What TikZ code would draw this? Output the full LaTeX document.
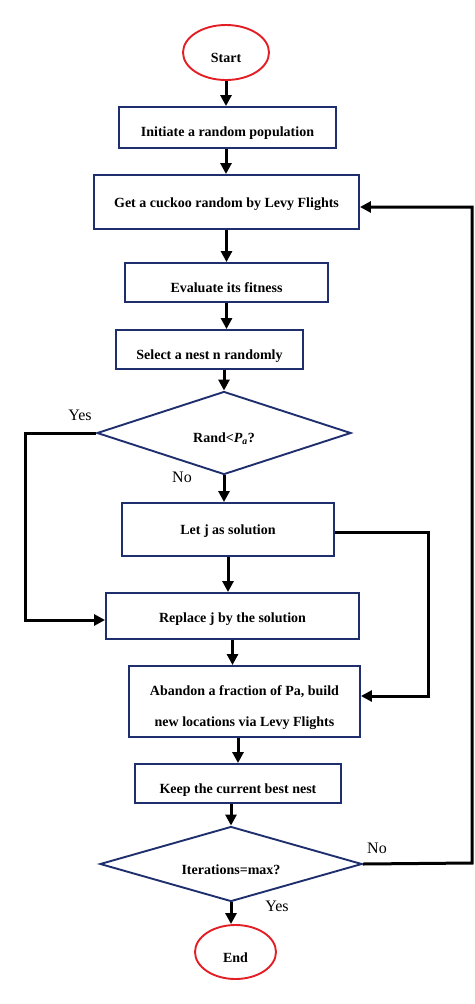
\documentclass[tikz,border=0pt]{standalone}
\usepackage{fontspec}
\setmainfont{Liberation Serif}
\usetikzlibrary{arrows.meta,shapes.geometric}
\definecolor{navy}{HTML}{1F2F6E}
\definecolor{ered}{HTML}{E31E24}
\tikzset{
  boxfont/.style={font=\fontsize{14}{16}\selectfont\bfseries},
  bl/.style={text height=#1,text depth=0pt},
  procbox/.style={draw=navy,line width=1.9pt,rectangle,inner sep=0pt,boxfont},
  term/.style={draw=ered,line width=1.9pt,ellipse,inner sep=0pt,boxfont},
  decide/.style={draw=navy,line width=1.9pt,diamond,inner sep=0pt,boxfont},
  flow/.style={line width=3pt,-{Triangle[length=11pt,width=11pt]}},
  lbl/.style={font=\fontsize{16}{18}\selectfont}
}
\begin{document}
\begin{tikzpicture}[x=1pt,y=-1pt]
\useasboundingbox (0,0) rectangle (474,1004);
\node[term,bl=19pt,minimum width=86pt,minimum height=55pt] (start) at (226,52.5) {Start};
\node[procbox,bl=17pt,minimum width=217pt,minimum height=41pt] (init) at (227.5,127.5) {Initiate a random population};
\node[procbox,bl=10pt,minimum width=265pt,minimum height=54pt] (get) at (226.5,202) {Get a cuckoo random by Levy Flights};
\node[procbox,bl=19pt,minimum width=203pt,minimum height=39pt] (eval) at (226.5,282.5) {Evaluate its fitness};
\node[procbox,bl=19pt,minimum width=187pt,minimum height=39pt] (sel) at (209.5,349.5) {Select a nest n randomly};
\node[decide,bl=18pt,minimum width=254pt,minimum height=83pt,aspect=3] (d1) at (224,433) {Rand<\textit{P}\textsubscript{\textit{a}}?};
\node[procbox,bl=9pt,minimum width=212pt,minimum height=53pt] (letj) at (228,529.5) {Let j as solution};
\node[procbox,bl=12pt,minimum width=253pt,minimum height=46pt] (rep) at (232.5,616) {Replace j by the solution};
\node[procbox,bl=49pt,minimum width=231pt,minimum height=71pt,align=center] (aband) at (244.5,701.5) {Abandon a fraction of Pa, build\\[15pt]new locations via Levy Flights};
\node[procbox,bl=19pt,minimum width=206pt,minimum height=39pt] (keep) at (238,783.5) {Keep the current best nest};
\node[decide,bl=20pt,minimum width=262pt,minimum height=75pt,aspect=3.5] (d2) at (231,864) {Iterations=max?};
\node[term,bl=20pt,minimum width=81pt,minimum height=54pt] (end) at (235.5,952) {End};
\coordinate (yl) at (25,433);
\coordinate (yl2) at (25,620);
\coordinate (nr) at (428,532);
\coordinate (nr2) at (428,696);
\coordinate (mr) at (472,863);
\coordinate (mr2) at (472,207);
\node[lbl] (yes1) at (80,415) {Yes};
\node[lbl] (no1) at (182,477) {No};
\node[lbl] (no2) at (377,848) {No};
\node[lbl] (yes2) at (277,906) {Yes};
\draw[flow] (start.south) -- (start.south |- init.north);
\draw[flow] (init.south -| start.south) -- (start.south |- get.north);
\draw[flow] (get.south) -- (get.south |- eval.north);
\draw[flow] (eval.south) -- (eval.south |- sel.north);
\draw[flow] (sel.south -| d1.north) -- (d1.north);
\draw[flow] (d1.south) -- (d1.south |- letj.north);
\draw[flow] (letj.south) -- (letj.south |- rep.north);
\draw[flow] (rep.south) -- (rep.south |- aband.north);
\draw[flow] (aband.south -| keep.south) -- (keep.north);
\draw[flow] (keep.south -| d2.north) -- (d2.north);
\draw[flow] (d2.south) -- (d2.south |- end.north);
\draw[flow] (d1.west) -- (yl) -- (yl2) -- (yl2 -| rep.west);
\draw[flow] (letj.east |- nr) -- (nr) -- (nr2) -- (nr2 -| aband.east);
\draw[flow] (d2.east) -- (mr) -- (mr2) -- (mr2 -| get.east);
\end{tikzpicture}
\end{document}
